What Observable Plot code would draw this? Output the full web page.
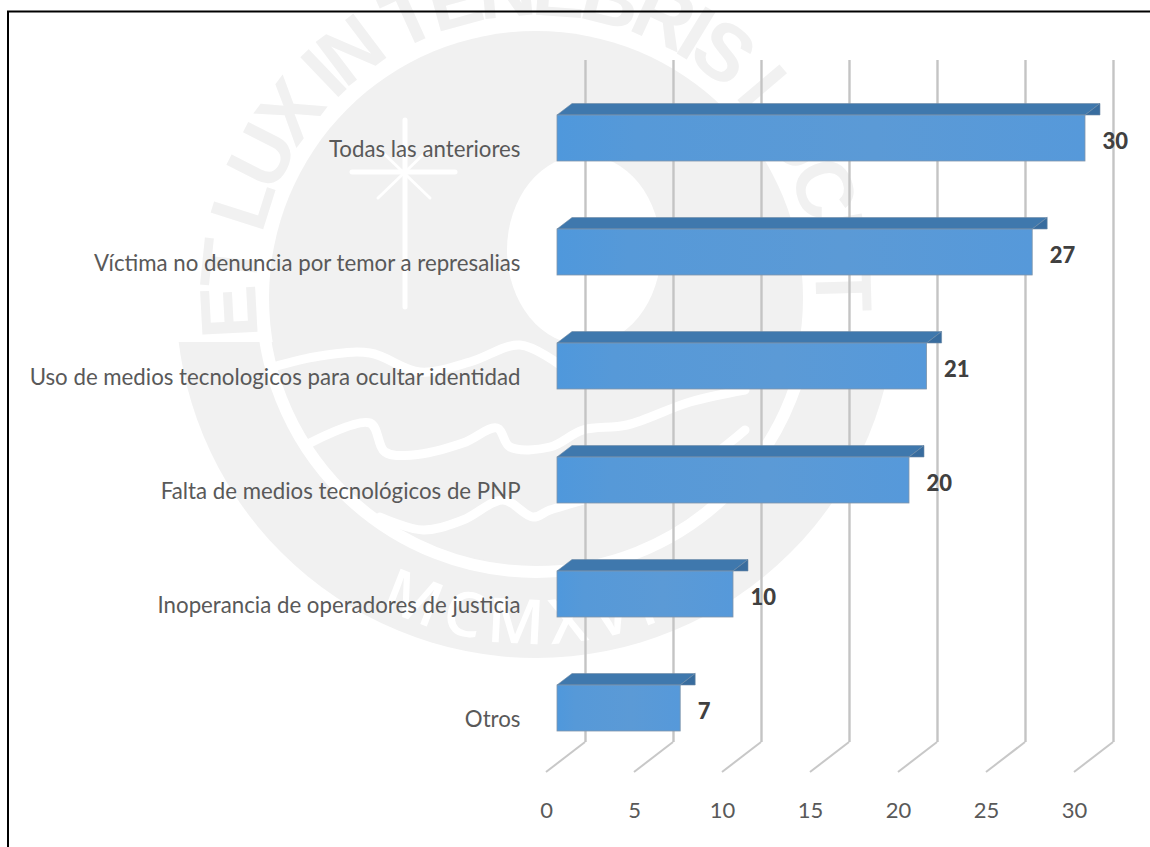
<!DOCTYPE html>
<html lang="es">
<head>
<meta charset="utf-8">
<script src="https://cdn.jsdelivr.net/npm/d3@7"></script>
<script src="https://cdn.jsdelivr.net/npm/@observablehq/plot@0.6"></script>
<style>
html,body{margin:0;padding:0;background:#fff;overflow:hidden}
#wrap{position:relative;width:1150px;height:847px;overflow:hidden}
#wrap>svg{position:absolute;left:0;top:0;display:block}
</style>
</head>
<body>
<div id="wrap"></div>
<script>
const categories = ["Todas las anteriores","Víctima no denuncia por temor a represalias","Uso de medios tecnologicos para ocultar identidad","Falta de medios tecnológicos de PNP","Inoperancia de operadores de justicia","Otros"];
const values = [30,27,21,20,10,7];
const xTicks = [0,5,10,15,20,25,30];
const rows = categories.map((c,i)=>({category:c,value:values[i]}));

const wrap = document.getElementById("wrap");

// faint seal watermark and the page frame, behind the chart
const bg = d3.select(wrap).append("svg").attr("width",1150).attr("height",847);
const cx=536, cy=298, wm="#f1f1f1";
const defs=bg.append("defs");
defs.append("path").attr("id","arcTop").attr("d","M259,337 A280,280 0 1 1 815,318");
defs.append("path").attr("id","arcBottom").attr("d",`M${cx-346},${cy} A346,346 0 0 0 ${cx+346},${cy}`);
defs.append("clipPath").attr("id","lower").append("rect").attr("x",0).attr("y",342).attr("width",1150).attr("height",505);
bg.append("circle").attr("cx",cx).attr("cy",cy).attr("r",360).attr("fill",wm).attr("clip-path","url(#lower)");
bg.append("circle").attr("cx",cx).attr("cy",cy).attr("r",274).attr("fill","none").attr("stroke","#fff").attr("stroke-width",12);
bg.append("circle").attr("cx",cx).attr("cy",cy).attr("r",267).attr("fill",wm);
bg.append("text").attr("font-family","Liberation Sans Narrow, Liberation Sans").attr("font-weight","bold").attr("font-size",80).attr("fill",wm)
  .append("textPath").attr("href","#arcTop").attr("startOffset",0)
  .attr("textLength",938).attr("lengthAdjust","spacing").text("ET LUX IN TENEBRIS LUCET");
bg.append("text").attr("font-family","Open Sans").attr("font-weight","600").attr("font-size",62).attr("fill","#fff")
  .append("textPath").attr("href","#arcBottom").attr("startOffset","50%").attr("text-anchor","middle")
  .attr("letter-spacing",8).text("MCMXVII");
bg.append("ellipse").attr("cx",584).attr("cy",250).attr("rx",77).attr("ry",95).attr("fill","#fff");
const waves=[
 [[273,367],[320,356],[370,353],[420,372],[470,362],[520,345],[560,365]],
 [[310,443],[370,423],[385,452],[413,455],[463,443],[497,428],[510,447],[550,447],[583,430],[627,425],[690,402],[745,390]],
 [[380,517],[423,530],[463,520],[503,500],[533,517],[550,510],[620,490],[690,470],[745,430]]
];
const wl=d3.line().curve(d3.curveCatmullRom);
waves.forEach(w=>bg.append("path").attr("d",wl(w)).attr("fill","none").attr("stroke","#fff").attr("stroke-width",9).attr("stroke-linecap","round"));
[[[405,120],[405,307],5],[[352,172],[455,172],5],[[378,198],[430,148],3],[[430,198],[378,148],3]].forEach(([a,b,w])=>
  bg.append("line").attr("x1",a[0]).attr("y1",a[1]).attr("x2",b[0]).attr("y2",b[1]).attr("stroke","#fff").attr("stroke-width",w).attr("stroke-linecap","round"));
bg.append("path").attr("d","M1150,11.5H8V847").attr("fill","none").attr("stroke","#000").attr("stroke-width",2);

// 3D extrusion of each bar, and the floor strokes of the gridlines
const depthX=15, depthY=-11.5;
const gradient = ()=>{
  const s=d3.create("svg:defs");
  const g=s.append("linearGradient").attr("id","frontFace");
  [[0,"#4f98dc"],[.15,"#5699d8"],[.6,"#5b9ad6"],[1,"#5699da"]].forEach(([o,c])=>g.append("stop").attr("offset",o).attr("stop-color",c));
  return s.node();
};
const barFaces = (index,{x,y})=>{
  const g=d3.create("svg:g");
  const bw=y.bandwidth;
  for(const r of rows){
    const x0=x(0), x1=x(r.value), y0=y(r.category), y1=y0+bw;
    g.append("polygon").attr("points",[[x0,y0],[x0+depthX,y0+depthY],[x1+depthX,y0+depthY],[x1,y0]].join(" "))
      .attr("fill","#3f78ad").attr("stroke","#6f8ba6").attr("stroke-width",.6);
    g.append("polygon").attr("points",[[x1,y0],[x1+depthX,y0+depthY],[x1+depthX,y1+depthY],[x1,y1]].join(" "))
      .attr("fill","#386c9e").attr("stroke","#6f8ba6").attr("stroke-width",.6);
  }
  return g.node();
};
const floorLines = (index,{x},values,dim)=>{
  const g=d3.create("svg:g");
  const yb=dim.height-dim.marginBottom-57.5;
  for(const t of xTicks){
    g.append("line").attr("x1",x(t)+28).attr("y1",yb).attr("x2",x(t)-11).attr("y2",yb+30)
      .attr("stroke","#c8c8c8").attr("stroke-width",2);
  }
  return g.node();
};

const chart = Plot.plot({
  width:1150, height:847,
  marginLeft:557, marginRight:65, marginTop:47, marginBottom:47.5,
  style:{background:"transparent",fontFamily:"Lato, Carlito, sans-serif"},
  x:{domain:[0,30]},
  y:{type:"band",domain:categories,padding:0.6},
  marks:[
    gradient,
    Plot.ruleX(xTicks,{stroke:"#c4c4c4",strokeWidth:2.4,dx:28,insetTop:13,insetBottom:57.5}),
    floorLines,
    barFaces,
    Plot.barX(rows,{x:"value",y:"category",fill:"url(#frontFace)",stroke:"#7f95aa",strokeWidth:.8}),
    Plot.axisY({anchor:"left",tickSize:0,tickPadding:37,dy:11,label:null,fontSize:22.25,fill:"#595959"}),
    Plot.axisX(xTicks,{anchor:"bottom",tickSize:0,tickPadding:2,dx:-11,label:null,fontSize:22,fill:"#595959"}),
    Plot.text(rows,{x:"value",y:"category",text:d=>String(d.value),textAnchor:"start",dx:17,dy:3,fontWeight:900,fontSize:22,fill:"#404040"})
  ]
});
wrap.appendChild(chart);
</script>
</body>
</html>
